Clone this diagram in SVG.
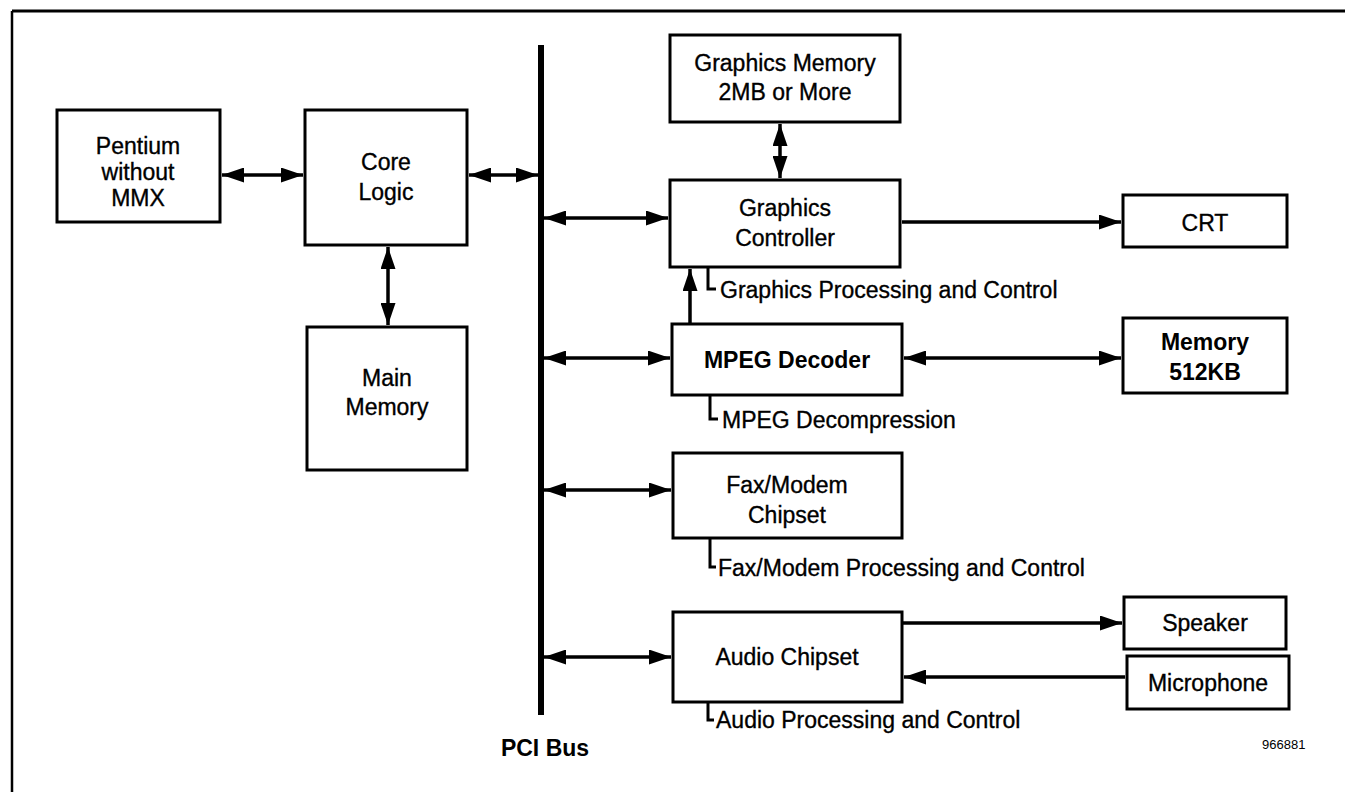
<svg xmlns="http://www.w3.org/2000/svg" width="1345" height="792" viewBox="0 0 1345 792">
<style>
  .box { fill: #fff; stroke: #000; stroke-width: 3; }
  .lbl { font-family: "Liberation Sans", Arial, sans-serif; font-size: 23px; fill: #000; stroke: #000; stroke-width: 0.35; text-anchor: middle; }
  .bold { font-weight: bold; stroke-width: 0; }
  .ann { font-family: "Liberation Sans", Arial, sans-serif; font-size: 23px; fill: #000; stroke: #000; stroke-width: 0.35; }
  .conn { stroke: #000; stroke-width: 3.5; fill: none; }
  .brk { stroke: #000; stroke-width: 3; fill: none; }
</style>
<defs>
  <marker id="ah" viewBox="0 0 22 15" refX="22" refY="7.5" markerWidth="22" markerHeight="15" markerUnits="userSpaceOnUse" orient="auto-start-reverse">
    <path d="M0,0 L22,7.5 L0,15 z" fill="#000"/>
  </marker>
</defs>
<rect width="1345" height="792" fill="#fff"/>
<g id="frame">
  <line x1="12" y1="11" x2="1345" y2="11" stroke="#000" stroke-width="3"/>
  <line x1="12" y1="11" x2="12" y2="792" stroke="#000" stroke-width="2.5"/>
</g>
<g id="pci-bus">
  <line x1="541" y1="45" x2="541" y2="715" stroke="#000" stroke-width="6"/>
  <text class="lbl bold" x="545" y="756">PCI Bus</text>
</g>
<g id="pentium">
  <rect class="box" x="57" y="110" width="163" height="112"/>
  <text class="lbl" x="138" y="154">Pentium</text>
  <text class="lbl" x="138" y="180">without</text>
  <text class="lbl" x="138" y="206">MMX</text>
</g>
<g id="core-logic">
  <rect class="box" x="305" y="110" width="162" height="135"/>
  <text class="lbl" x="386" y="170">Core</text>
  <text class="lbl" x="386" y="200">Logic</text>
</g>
<g id="main-memory">
  <rect class="box" x="307" y="327" width="160" height="143"/>
  <text class="lbl" x="387" y="386">Main</text>
  <text class="lbl" x="387" y="415">Memory</text>
</g>
<g id="graphics-memory">
  <rect class="box" x="670" y="35" width="230" height="87"/>
  <text class="lbl" x="785" y="71">Graphics Memory</text>
  <text class="lbl" x="785" y="100">2MB or More</text>
</g>
<g id="graphics-controller">
  <rect class="box" x="670" y="180" width="230" height="87"/>
  <text class="lbl" x="785" y="216">Graphics</text>
  <text class="lbl" x="785" y="246">Controller</text>
  <path class="brk" d="M708,267 V289 H716"/>
  <text class="ann" x="720" y="298">Graphics Processing and Control</text>
</g>
<g id="crt">
  <rect class="box" x="1123" y="195" width="164" height="52"/>
  <text class="lbl" x="1205" y="231">CRT</text>
</g>
<g id="mpeg-decoder">
  <rect class="box" x="672" y="324" width="230" height="71"/>
  <text class="lbl bold" x="787" y="368">MPEG Decoder</text>
  <path class="brk" d="M710,395 V419 H718"/>
  <text class="ann" x="722" y="428">MPEG Decompression</text>
</g>
<g id="memory-512kb">
  <rect class="box" x="1123" y="318" width="164" height="75"/>
  <text class="lbl bold" x="1205" y="350">Memory</text>
  <text class="lbl bold" x="1205" y="380">512KB</text>
</g>
<g id="fax-modem">
  <rect class="box" x="673" y="453" width="229" height="85"/>
  <text class="lbl" x="787" y="493">Fax/Modem</text>
  <text class="lbl" x="787" y="523">Chipset</text>
  <path class="brk" d="M710,538 V567 H716"/>
  <text class="ann" x="718" y="576">Fax/Modem Processing and Control</text>
</g>
<g id="audio-chipset">
  <rect class="box" x="673" y="612" width="229" height="90"/>
  <text class="lbl" x="787" y="665">Audio Chipset</text>
  <path class="brk" d="M708,702 V720 H714"/>
  <text class="ann" x="716" y="728">Audio Processing and Control</text>
</g>
<g id="speaker">
  <rect class="box" x="1124" y="597" width="162" height="52"/>
  <text class="lbl" x="1205" y="631">Speaker</text>
</g>
<g id="microphone">
  <rect class="box" x="1127" y="656" width="162" height="53"/>
  <text class="lbl" x="1208" y="691">Microphone</text>
</g>
<g id="connectors">
  <path class="conn" d="M222,175 H303" marker-start="url(#ah)" marker-end="url(#ah)"/>
  <path class="conn" d="M469,175 H538" marker-start="url(#ah)" marker-end="url(#ah)"/>
  <path class="conn" d="M388,247 V325" marker-start="url(#ah)" marker-end="url(#ah)"/>
  <path class="conn" d="M544,218 H668" marker-start="url(#ah)" marker-end="url(#ah)"/>
  <path class="conn" d="M780,124 V178" marker-start="url(#ah)" marker-end="url(#ah)"/>
  <path class="conn" d="M902,222 H1121" marker-end="url(#ah)"/>
  <path class="conn" d="M690,324 V269" marker-end="url(#ah)"/>
  <path class="conn" d="M544,358 H670" marker-start="url(#ah)" marker-end="url(#ah)"/>
  <path class="conn" d="M904,358 H1121" marker-start="url(#ah)" marker-end="url(#ah)"/>
  <path class="conn" d="M544,490 H671" marker-start="url(#ah)" marker-end="url(#ah)"/>
  <path class="conn" d="M544,657 H671" marker-start="url(#ah)" marker-end="url(#ah)"/>
  <path class="conn" d="M902,623 H1122" marker-end="url(#ah)"/>
  <path class="conn" d="M1125,677 H904" marker-end="url(#ah)"/>
</g>
<text x="1262" y="749" font-family="Liberation Sans, Arial, sans-serif" font-size="13" fill="#000">966881</text>
</svg>
